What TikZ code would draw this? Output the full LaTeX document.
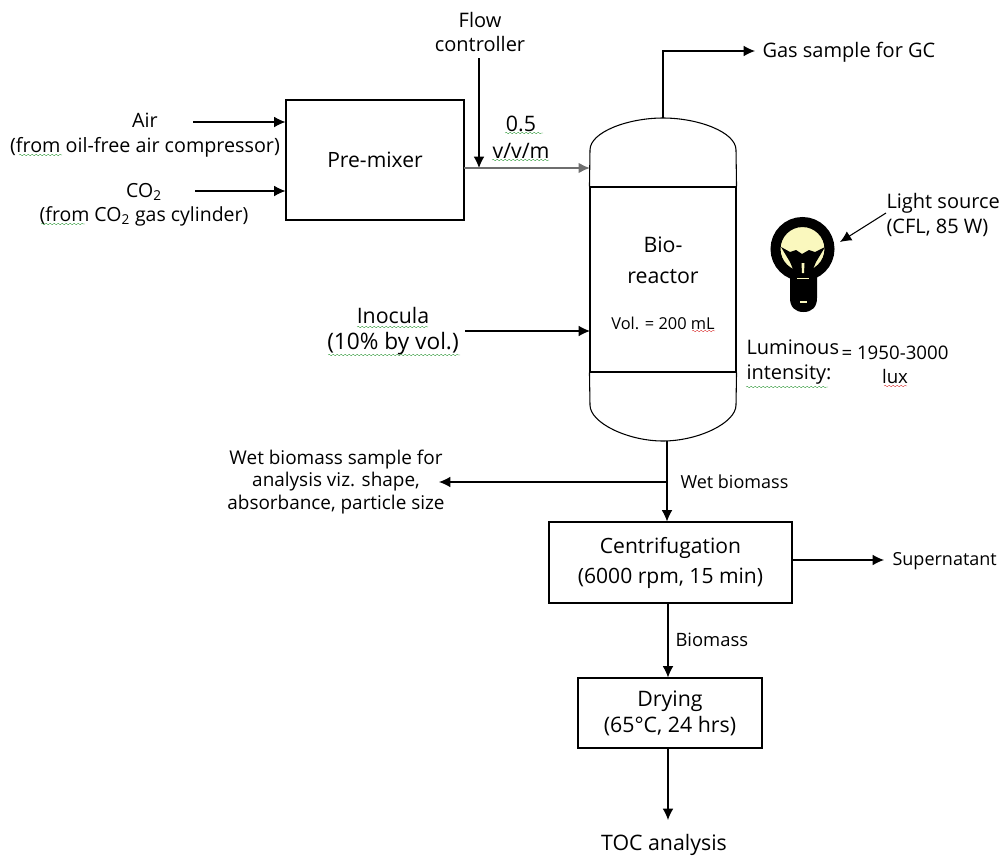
\documentclass[tikz,border=0pt]{standalone}
\usepackage{fontspec}
\setmainfont{Open Sans}
\usetikzlibrary{arrows.meta,decorations.pathmorphing}
\definecolor{bulbyellow}{RGB}{250,248,190}
\definecolor{flowgray}{RGB}{110,110,110}
\definecolor{spellgreen}{RGB}{40,150,50}
\definecolor{spellred}{RGB}{215,40,40}
\begin{document}
\begin{tikzpicture}[x=0.75pt,y=-0.75pt,
    thick,
    main node/.style={draw,rectangle,inner sep=0pt,align=center,font=\fontsize{15.8}{22.5}\selectfont},
    lbl/.style={align=center,inner sep=0pt,font=\fontsize{15}{18.5}\selectfont},
    big lbl/.style={align=center,inner sep=0pt,font=\fontsize{16}{20}\selectfont},
    small lbl/.style={align=center,inner sep=0pt,font=\fontsize{13.5}{17}\selectfont},
    flow/.style={-{Latex[length=8.5pt,width=8pt]}},
    spell/.style={very thin,decorate,decoration={snake,amplitude=0.6pt,segment length=3pt}}
  ]
  \useasboundingbox (0,0) rectangle (1000,857);

  \node[main node,minimum width=133.5pt,minimum height=90pt] (premixer) at (375,160) {Pre-mixer};
  \node[main node,minimum width=109.5pt,minimum height=138.75pt] (reactor) at (663,279.5) {};
  \node[main node,minimum width=182.25pt,minimum height=60.75pt] (centrifuge) at (670.5,562.5) {Centrifugation\\(6000 rpm, 15 min)};
  \node[main node,minimum width=138pt,minimum height=52.5pt,font=\fontsize{16}{19.5}\selectfont] (drying) at (670,713) {Drying\\(65°C, 24 hrs)};

  \node[lbl] (flowctrl) at (480,32) {Flow\\controller};
  \node[lbl,font=\fontsize{14.8}{18.5}\selectfont] (air) at (145,135) {Air\\(from oil-free air compressor)};
  \node[lbl,font=\fontsize{14.6}{18}\selectfont] (co2) at (144,205) {CO\textsubscript{2}\\(from CO\textsubscript{2} gas cylinder)};
  \node[big lbl] (rate) at (521,137) {0.5\\v/v/m};
  \node[lbl,anchor=west] (gas) at (762,52) {Gas sample for GC};
  \node[big lbl,font=\fontsize{16}{23}\selectfont] (bio) at (663,260.5) {Bio-\\reactor};
  \node[small lbl,font=\fontsize{12.3}{15}\selectfont] (vol) at (663,323) {Vol. = 200 mL};
  \node[lbl,anchor=west,align=left] (light) at (886,215) {Light source\\(CFL, 85 W)};
  \node[big lbl,font=\fontsize{17}{19.5}\selectfont] (inocula) at (393,331) {{\fontsize{16}{19.5}\selectfont Inocula}\\(10\% by vol.)};
  \node[lbl,anchor=west,align=left] (lum) at (746,362) {Luminous\\intensity:};
  \node[small lbl,font=\fontsize{14}{18}\selectfont] (lumval) at (895,365) {= 1950-3000\\lux};
  \node[small lbl,font=\fontsize{14.2}{17}\selectfont] (wetsample) at (336,482) {Wet biomass sample for\\analysis viz. shape,\\absorbance, particle size};
  \node[small lbl,anchor=west] (wet) at (680,482) {Wet biomass};
  \node[small lbl,anchor=west] (super) at (892,561) {Supernatant};
  \node[small lbl,anchor=west,font=\fontsize{13.8}{17}\selectfont] (biomass) at (675,640) {Biomass};
  \node[big lbl] (toc) at (664,845) {TOC analysis};

  \coordinate (dometop) at (663,118);
  \coordinate (domebot) at (667,441);
  \coordinate (airin) at (193,122);
  \coordinate (co2in) at (195,191);
  \coordinate (ctrlin) at (479,58);
  \coordinate (ctrlout) at (479,168);
  \coordinate (mixout) at (464,168);
  \coordinate (mixin) at (590,168);
  \coordinate (gasend) at (755,51);
  \coordinate (inocin) at (465,331);
  \coordinate (inocend) at (590,331);
  \coordinate (branch) at (667,482);
  \coordinate (branchend) at (439,482);
  \coordinate (superend) at (884,560);
  \coordinate (tocend) at (668,820);
  \coordinate (lightin) at (886,213);
  \coordinate (bulbin) at (840,242);

  % vessel heads
  \draw (reactor.north west) -- (590,150) .. controls (590,132) and (628,118) .. (dometop)
    .. controls (698,118) and (736,132) .. (736,150) -- (reactor.north east);
  \draw (reactor.south west) -- (590,405) .. controls (590,423) and (628,441) .. (663,441)
    .. controls (698,441) and (736,423) .. (736,405) -- (reactor.south east);

  \path%
   (airin) edge [flow] (airin -| premixer.west)
   (co2in) edge [flow] (co2in -| premixer.west)
   (ctrlin) edge [flow] (ctrlout)
   (inocin) edge [flow] (inocend)
   (branch) edge [flow] (branchend)
   (domebot) edge [flow] (centrifuge.north -| domebot)
   (superend -| centrifuge.east) edge [flow] (superend)
   (centrifuge.south -| tocend) edge [flow] (drying.north -| tocend)
   (drying.south -| tocend) edge [flow] (tocend)
   (lightin) edge [flow] (bulbin);
  \draw[flow,flowgray,line width=1.5pt] (mixout) -- (mixin);
  \draw[flow] (dometop) |- (gasend);

  % lamp
  \fill (790,270) -- (817,270) -- (817,298) .. controls (817,307) and (812,312) .. (803.5,312)
    .. controls (795,312) and (790,307) .. (790,298) -- cycle;
  \draw[line width=7.5pt,fill=bulbyellow] (802.5,249) circle (27);
  \fill (781,247) -- (790,252) -- (796,250) -- (802,254) -- (809,250) -- (815,252) -- (825,247)
    -- (816,262) -- (811,274) -- (795,274) -- (790,262) -- cycle;
  \fill[bulbyellow] (801.5,263) -- (804.5,263) -- (804,273) -- (802,273) -- cycle;
  \draw[bulbyellow,line width=1pt] (797,278.5) -- (809,278.5);
  \draw[bulbyellow,line width=0.8pt] (800,302) -- (807,302);

  % spell checker marks
  \draw[spell,spellgreen] (19,155) -- (62,155);
  \draw[spell,spellgreen] (41,224) -- (85,224);
  \draw[spell,spellgreen] (505,133) -- (543,133);
  \draw[spell,spellgreen] (492,160) -- (549,160);
  \draw[spell,spellgreen] (357,327) -- (428,327);
  \draw[spell,spellgreen] (328,355) -- (460,355);
  \draw[spell,spellgreen] (746,387) -- (828,387);
  \draw[spell,spellred] (692,331) -- (715,331);
  \draw[spell,spellred] (884,386) -- (907,386);
\end{tikzpicture}
\end{document}
